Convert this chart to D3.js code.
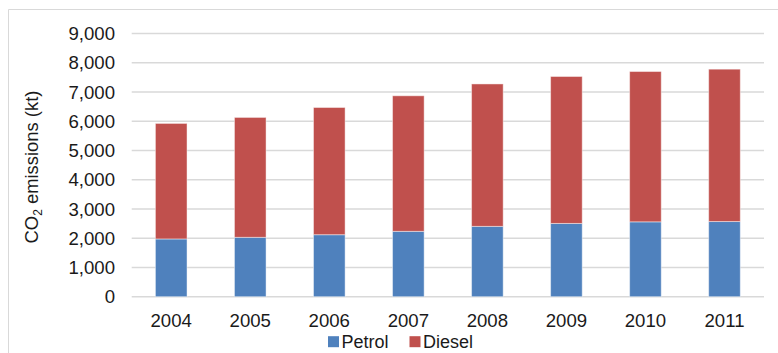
<!DOCTYPE html>
<html>
<head>
<meta charset="utf-8">
<script src="https://cdn.jsdelivr.net/npm/d3@7"></script>
<style>
  html, body { margin: 0; padding: 0; background: #fff; }
  svg { display: block; font-family: "Liberation Sans", Arial, sans-serif; }
</style>
</head>
<body>
<svg id="chart" width="778" height="353"></svg>
<script>
const years = ["2004", "2005", "2006", "2007", "2008", "2009", "2010", "2011"];
const petrol = [1975, 2030, 2120, 2235, 2405, 2505, 2560, 2570];
const diesel = [3950, 4100, 4350, 4635, 4870, 5025, 5140, 5210];
const seriesNames = ["Petrol", "Diesel"];
const seriesColors = ["#4F81BD", "#C0504D"];
const yTicks = [0, 1000, 2000, 3000, 4000, 5000, 6000, 7000, 8000, 9000];

const svg = d3.select("#chart");
const W = 778, H = 353;
const margin = { left: 131.7, right: 14, top: 33.5, bottom: 56.3 };

// chart area border
svg.append("path")
  .attr("d", `M8.5,${H} L8.5,9.5 L${W},9.5`)
  .attr("fill", "none").attr("stroke", "#D9D9D9").attr("stroke-width", 1);

const x = d3.scaleBand().domain(years)
  .range([margin.left, W - margin.right]).paddingInner(0.6).paddingOuter(0.3);
const y = d3.scaleLinear().domain([0, 9000]).range([H - margin.bottom, margin.top]);

// gridlines
svg.append("g").selectAll("line").data(yTicks).join("line")
  .attr("x1", margin.left).attr("x2", W - margin.right)
  .attr("y1", d => y(d)).attr("y2", d => y(d))
  .attr("stroke", "#D9D9D9").attr("stroke-width", 1.5);

// y tick labels
const fmt = d3.format(",");
svg.append("g").selectAll("text").data(yTicks).join("text")
  .attr("x", 115).attr("y", d => y(d)).attr("dy", "0.36em")
  .attr("text-anchor", "end").attr("font-size", 18.6).attr("fill", "#1a1a1a")
  .text(d => fmt(d));

// stacked data
const table = years.map((yr, i) => ({ year: yr, Petrol: petrol[i], Diesel: diesel[i] }));
const stack = d3.stack().keys(seriesNames)(table);
const color = d3.scaleOrdinal().domain(seriesNames).range(seriesColors);

svg.append("g").selectAll("g").data(stack).join("g")
  .attr("fill", d => color(d.key))
  .selectAll("rect").data(d => d).join("rect")
  .attr("x", d => x(d.data.year))
  .attr("width", x.bandwidth())
  .attr("y", d => y(d[1]))
  .attr("height", d => y(d[0]) - y(d[1]))
  .attr("stroke", "rgba(255,255,255,0.45)").attr("stroke-width", 1);

// x labels
svg.append("g").selectAll("text").data(years).join("text")
  .attr("x", d => x(d) + x.bandwidth() / 2).attr("y", 326.8)
  .attr("text-anchor", "middle").attr("font-size", 18.6).attr("fill", "#1a1a1a")
  .text(d => d);

// y axis title
const yt = svg.append("text")
  .attr("transform", "translate(37.5,167) rotate(-90)")
  .attr("text-anchor", "middle").attr("font-size", 18.4).attr("fill", "#1a1a1a");
yt.append("tspan").text("CO");
yt.append("tspan").attr("font-size", 12).attr("dy", 4).text("2");
yt.append("tspan").attr("dy", -4).text(" emissions (kt)");

// legend
const legendX = [328, 409.5];
const lg = svg.append("g").selectAll("g").data(seriesNames).join("g")
  .attr("transform", (d, i) => `translate(${legendX[i]},341.7)`);
lg.append("rect").attr("x", 0).attr("y", -5.5).attr("width", 11).attr("height", 11)
  .attr("fill", d => color(d));
lg.append("text").attr("x", 13.5).attr("y", 0).attr("dy", "0.36em")
  .attr("font-size", 18).attr("fill", "#1a1a1a").text(d => d);
</script>
</body>
</html>
